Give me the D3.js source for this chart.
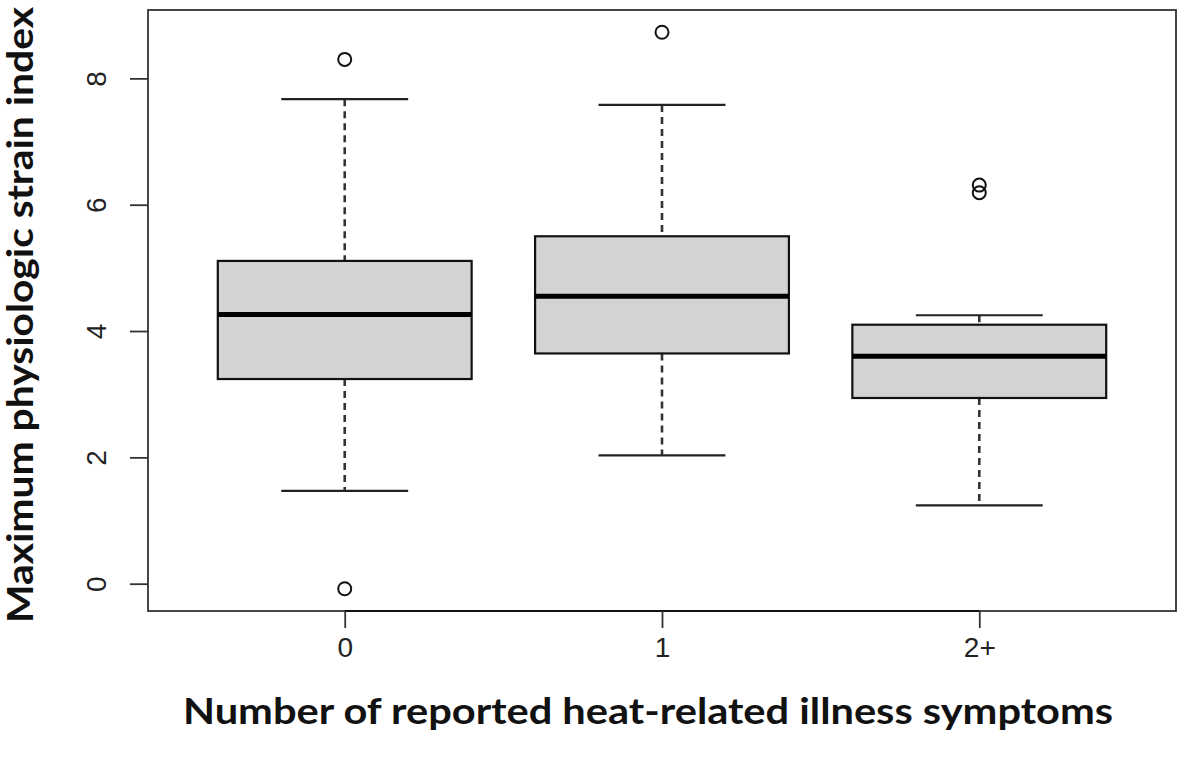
<!DOCTYPE html>
<html>
<head>
<meta charset="utf-8">
<script src="https://cdn.jsdelivr.net/npm/d3@7"></script>
<style>
  body { margin: 0; background: #fff; }
  svg { display: block; }
</style>
</head>
<body>
<div id="chart"></div>
<script>
// group labels and box statistics
const categories = ["0", "1", "2+"];
const whiskerLow = [1.47, 2.03, 1.24];
const q1 = [3.24, 3.645, 2.94];
const median = [4.26, 4.55, 3.60];
const q3 = [5.11, 5.50, 4.10];
const whiskerHigh = [7.67, 7.58, 4.25];
const outliers = [[8.30, -0.08], [8.73], [6.31, 6.19]];
const yTicks = [0, 2, 4, 6, 8];

const width = 1180, height = 760;
const margin = { top: 10, right: 4, bottom: 149, left: 148 };
const innerWidth = width - margin.left - margin.right;
const innerHeight = height - margin.top - margin.bottom;

const boxes = categories.map((c, i) => ({
    cat: c, pos: i + 1,
    lo: whiskerLow[i], q1: q1[i], med: median[i], q3: q3[i], hi: whiskerHigh[i],
    out: outliers[i]
}));

const svg = d3.select("#chart").append("svg")
    .attr("width", width)
    .attr("height", height)
    .attr("viewBox", [0, 0, width, height]);

const innerChart = svg.append("g")
    .attr("transform", `translate(${margin.left}, ${margin.top})`);

// R style ranges: 4% padding around the data
const allVals = boxes.flatMap(d => [d.lo, d.hi, ...d.out]);
const [yMin, yMax] = d3.extent(allVals);
const yPad = (yMax - yMin) * 0.04;
const yScale = d3.scaleLinear()
    .domain([yMin - yPad, yMax + yPad])
    .range([innerHeight, 0]);

const xPad = (categories.length) * 0.04;
const xScale = d3.scaleLinear()
    .domain([0.5 - xPad, categories.length + 0.5 + xPad])
    .range([0, innerWidth]);

const boxHalf = xScale(0.4) - xScale(0);
const capHalf = boxHalf / 2;

const groups = innerChart.selectAll(".box")
    .data(boxes)
    .join("g")
        .attr("class", "box");

// dashed whiskers
groups.append("line")
    .attr("x1", d => xScale(d.pos)).attr("x2", d => xScale(d.pos))
    .attr("y1", d => yScale(d.hi)).attr("y2", d => yScale(d.q3))
    .attr("stroke", "#333").attr("stroke-width", 2.6)
    .attr("stroke-dasharray", "7,5");
groups.append("line")
    .attr("x1", d => xScale(d.pos)).attr("x2", d => xScale(d.pos))
    .attr("y1", d => yScale(d.q1)).attr("y2", d => yScale(d.lo))
    .attr("stroke", "#333").attr("stroke-width", 2.6)
    .attr("stroke-dasharray", "7,5");

// whisker caps
["hi", "lo"].forEach(k => {
    groups.append("line")
        .attr("x1", d => xScale(d.pos) - capHalf).attr("x2", d => xScale(d.pos) + capHalf)
        .attr("y1", d => yScale(d[k])).attr("y2", d => yScale(d[k]))
        .attr("stroke", "#222").attr("stroke-width", 2.2);
});

// boxes
groups.append("rect")
    .attr("x", d => xScale(d.pos) - boxHalf)
    .attr("width", 2 * boxHalf)
    .attr("y", d => yScale(d.q3))
    .attr("height", d => yScale(d.q1) - yScale(d.q3))
    .attr("fill", "#d3d3d3")
    .attr("stroke", "#111").attr("stroke-width", 2.2);

// medians
groups.append("line")
    .attr("x1", d => xScale(d.pos) - boxHalf).attr("x2", d => xScale(d.pos) + boxHalf)
    .attr("y1", d => yScale(d.med)).attr("y2", d => yScale(d.med))
    .attr("stroke", "#000").attr("stroke-width", 5);

// outliers
groups.selectAll(".outlier")
    .data(d => d.out.map(v => ({ pos: d.pos, v })))
    .join("circle")
        .attr("class", "outlier")
        .attr("cx", d => xScale(d.pos))
        .attr("cy", d => yScale(d.v))
        .attr("r", 6.5)
        .attr("fill", "none")
        .attr("stroke", "#111").attr("stroke-width", 2);

// frame
innerChart.append("rect")
    .attr("width", innerWidth).attr("height", innerHeight)
    .attr("fill", "none")
    .attr("stroke", "#333").attr("stroke-width", 1.8);

// y axis
const yAxis = innerChart.append("g")
    .call(d3.axisLeft(yScale).tickValues(yTicks).tickSize(18).tickFormat(d3.format("d")));
yAxis.select(".domain").remove();
yAxis.selectAll(".tick line").attr("stroke", "#333").attr("stroke-width", 1.8);
yAxis.selectAll(".tick text")
    .attr("x", null).attr("y", null).attr("dy", null)
    .attr("transform", "translate(-42, 0) rotate(-90)")
    .attr("text-anchor", "middle")
    .style("font-family", "'Liberation Sans', Arial, sans-serif")
    .style("font-size", "28px")
    .attr("fill", "#222");

// x axis
const xAxis = innerChart.append("g")
    .attr("transform", `translate(0, ${innerHeight})`)
    .call(d3.axisBottom(xScale)
        .tickValues(boxes.map(d => d.pos))
        .tickFormat((d, i) => categories[i])
        .tickSize(17)
        .tickSizeOuter(0));
xAxis.select(".domain")
    .attr("d", `M${xScale(1)},0H${xScale(categories.length)}`)
    .attr("stroke", "#111").attr("stroke-width", 2.2);
xAxis.selectAll(".tick line").attr("stroke", "#333").attr("stroke-width", 1.8);
xAxis.selectAll(".tick text")
    .attr("y", 46).attr("dy", 0)
    .style("font-family", "'Liberation Sans', Arial, sans-serif")
    .style("font-size", "28px")
    .attr("fill", "#222");

// axis titles
svg.append("text")
    .attr("x", 648).attr("y", 724)
    .attr("text-anchor", "middle")
    .attr("textLength", 930)
    .attr("lengthAdjust", "spacingAndGlyphs")
    .style("font-family", "Lato, 'Open Sans', sans-serif")
    .style("font-weight", "bold")
    .style("font-size", "36px")
    .attr("fill", "#111")
    .text("Number of reported heat-related illness symptoms");

svg.append("text")
    .attr("transform", "translate(33, 315) rotate(-90)")
    .attr("text-anchor", "middle")
    .attr("textLength", 616)
    .attr("lengthAdjust", "spacingAndGlyphs")
    .style("font-family", "Lato, 'Open Sans', sans-serif")
    .style("font-weight", "bold")
    .style("font-size", "36px")
    .attr("fill", "#111")
    .text("Maximum physiologic strain index");
</script>
</body>
</html>
